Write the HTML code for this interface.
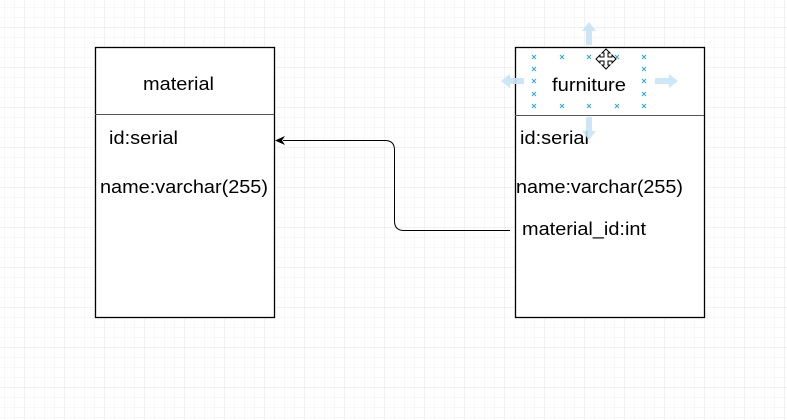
<!DOCTYPE html>
<html><head><style>
body{margin:0;width:787px;height:420px;overflow:hidden;background:#fff;font-family:"Liberation Sans",sans-serif;}
svg{position:absolute;left:0;top:0}
</style></head><body>
<svg width="787" height="420" viewBox="0 0 787 420">
<defs>
<pattern id="minor" x="4.5" y="7.5" width="10" height="10" patternUnits="userSpaceOnUse">
<path d="M0 0H10M0 0V10" stroke="#f1f1f1" stroke-width="1" fill="none"/>
</pattern>
<pattern id="major" x="24.5" y="27.5" width="40" height="40" patternUnits="userSpaceOnUse">
<path d="M0 0H40M0 0V40" stroke="#e3e3e3" stroke-width="1" fill="none"/>
</pattern>
</defs>
<rect width="787" height="420" fill="url(#minor)"/>
<rect width="787" height="420" fill="url(#major)"/>
<g font-size="18" fill="#000">
<rect x="95.5" y="47.5" width="179" height="270" fill="#fff" stroke="#000" stroke-width="1.3"/>
<line x1="95" y1="114.5" x2="274" y2="114.5" stroke="#555"/>
<text x="143" y="90" textLength="71" lengthAdjust="spacingAndGlyphs">material</text>
<text x="109" y="144" textLength="69" lengthAdjust="spacingAndGlyphs">id:serial</text>
<text x="100" y="193" textLength="168" lengthAdjust="spacingAndGlyphs">name:varchar(255)</text>
<rect x="515.5" y="47.5" width="189" height="270" fill="#fff" stroke="#000" stroke-width="1.3"/>
<line x1="515" y1="115.5" x2="704" y2="115.5" stroke="#555"/>
<text x="552" y="91" textLength="74" lengthAdjust="spacingAndGlyphs">furniture</text>
<text x="520" y="144" textLength="69" lengthAdjust="spacingAndGlyphs">id:serial</text>
<text x="516" y="193" textLength="167" lengthAdjust="spacingAndGlyphs">name:varchar(255)</text>
<text x="522" y="235" textLength="124" lengthAdjust="spacingAndGlyphs">material_id:int</text>
</g>
<path d="M510 230.5H404Q394.5 230.5 394.5 221V150Q394.5 140.5 385 140.5H283" fill="none" stroke="#000" stroke-width="1"/>
<path d="M275 140.5L285 136L282 140.5L285 145Z" fill="#000"/>
<g fill="#c6e4f5" opacity="0.9">
<path d="M589 22l-7 9h4v14h6V31h4z"/>
<path d="M589 140l-7-9h4v-14h6v14h4z"/>
<path d="M501 81l9-7v4h14v6h-14v4z"/>
<path d="M678 81l-9-7v4h-14v6h14v4z"/>
</g>
<g stroke="#29a8e0" stroke-width="1">
<g id="x"><path d="M-2 -2L2 2M-2 2L2 -2" transform="translate(534 57)"/></g>
<use href="#x" x="28"/><use href="#x" x="55"/><use href="#x" x="83"/><use href="#x" x="110"/>
<use href="#x" y="12"/><use href="#x" y="24"/><use href="#x" y="37"/><use href="#x" y="49"/>
<use href="#x" x="110" y="12"/><use href="#x" x="110" y="24"/><use href="#x" x="110" y="37"/><use href="#x" x="110" y="49"/>
<use href="#x" x="28" y="49"/><use href="#x" x="55" y="49"/><use href="#x" x="83" y="49"/>
</g>
<g transform="translate(606 59)" stroke="#000" fill="#fff" stroke-width="1">
<path d="M0 -10L4 -6H2V-2H6V-4L10 0L6 4V2H2V6H4L0 10L-4 6H-2V2H-6V4L-10 0L-6 -4V-2H-2V-6H-4Z"/>
</g>
</svg>
</body></html>
